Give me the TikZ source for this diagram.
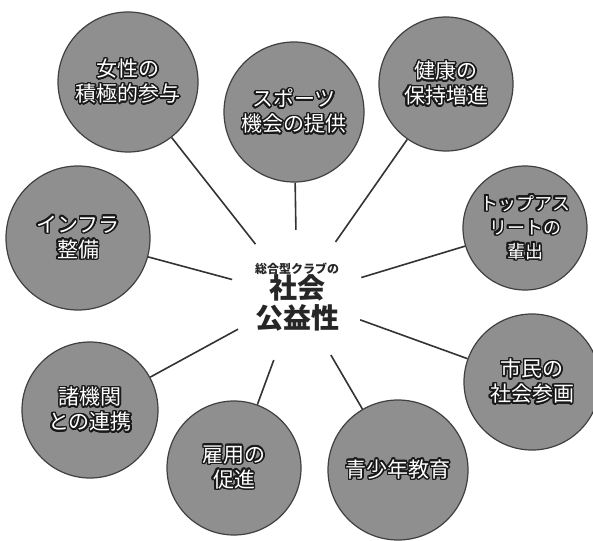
\documentclass[tikz,border=0pt]{standalone}
\usepackage{fontspec}
\newfontfamily\cjk{Noto Sans CJK JP}
\usepackage[copies]{contour}
\contourlength{1.5pt}
\contournumber{24}
\newcommand{\halo}[1]{\contour{black!90}{#1}}

\begin{document}
\begin{tikzpicture}[x=1pt, y=-1pt, font=\cjk,
  bubble/.style={circle, draw=black!75, line width=1.2pt, fill=black!44, text=white, align=center, inner sep=0pt, font=\cjk\fontsize{21}{25}\selectfont},
  link/.style={draw=black!80, line width=1.6pt}]
  \useasboundingbox (0,0) rectangle (593,540);
  \node[circle, minimum size=134pt, inner sep=0pt, align=center, text=black!85] (hub) at (297,297)
    {{\fontsize{12}{14}\selectfont\bfseries 総合型クラブの}\\[-1pt]
     {\fontsize{28}{30}\selectfont\bfseries 社会}\\[2pt]
     {\fontsize{28}{30}\selectfont\bfseries 公益性}};
  \node[bubble, minimum size=140pt] (women) at (128,82) {\halo{女性の}\\\halo{積極的参与}};
  \node[bubble, minimum size=140pt] (sport) at (294,112) {\halo{スポーツ}\\\halo{機会の提供}};
  \node[bubble, minimum size=134pt] (health) at (446,84) {\halo{健康の}\\\halo{保持増進}};
  \node[bubble, minimum size=124pt, font=\cjk\fontsize{18}{24}\selectfont] (athlete) at (525,228) {\halo{トップアス}\\\halo{リートの}\\\halo{輩出}};
  \node[bubble, minimum size=144pt] (infra) at (78,238) {\halo{インフラ}\\\halo{整備}};
  \node[bubble, minimum size=136pt] (citizen) at (532,382) {\halo{市民の}\\\halo{社会参画}};
  \node[bubble, minimum size=136pt] (partner) at (90,410) {\halo{諸機関}\\\halo{との連携}};
  \node[bubble, minimum size=134pt] (employ) at (234,468) {\halo{雇用の}\\\halo{促進}};
  \node[bubble, minimum size=140pt] (youth) at (398,470) {\halo{青少年教育}};
  \foreach \n in {women,sport,health,athlete,infra,citizen,partner,employ,youth}
    \draw[link] (hub) -- (\n);
\end{tikzpicture}
\end{document}
